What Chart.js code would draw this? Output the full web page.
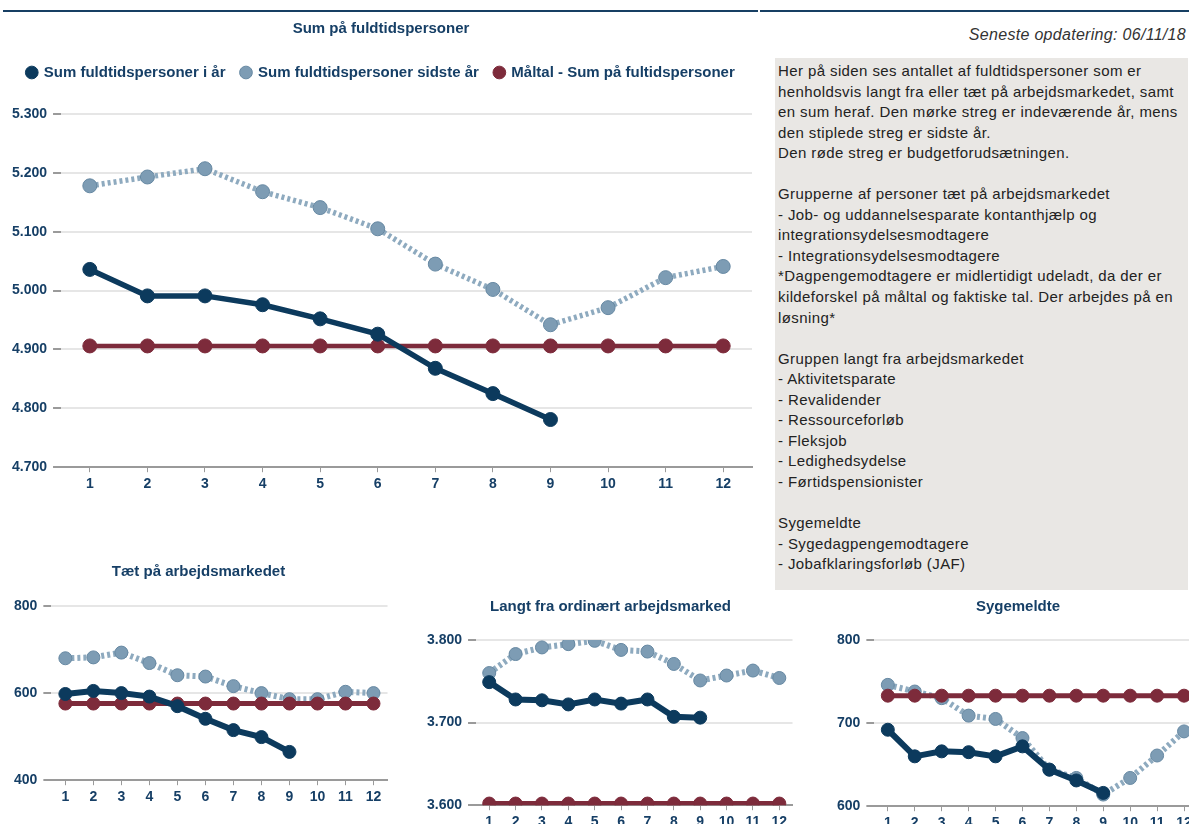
<!DOCTYPE html>
<html>
<head>
<meta charset="utf-8">
<script src="https://cdn.jsdelivr.net/npm/chart.js@4/dist/chart.umd.min.js"></script>
<style>
  html, body { margin: 0; padding: 0; background: #fff; }
  body { position: relative; width: 1189px; height: 824px; overflow: hidden;
         font-family: 'Liberation Sans', Arial, sans-serif; }
  .rule { position: absolute; top: 10px; height: 2px; background: #173f63; }
  .box { position: absolute; }
  #updated { position: absolute; right: 3px; top: 26px; font-size: 16px; letter-spacing: 0.3px;
             font-style: italic; color: #333; }
  #info { position: absolute; left: 775px; top: 58px; width: 410px; height: 529px;
          background: #e9e7e4; color: #222; font-size: 15px; letter-spacing: 0.4px; line-height: 20.55px;
          padding: 3px 0 0 3px; white-space: nowrap; }
</style>
</head>
<body>
<div class="rule" style="left:3px;width:755px"></div>
<div class="rule" style="left:760px;width:429px"></div>
<div id="updated">Seneste opdatering: 06/11/18</div>
<div id="info">Her på siden ses antallet af fuldtidspersoner som er<br>henholdsvis langt fra eller tæt på arbejdsmarkedet, samt<br>en sum heraf. Den mørke streg er indeværende år, mens<br>den stiplede streg er sidste år.<br>Den røde streg er budgetforudsætningen.<br><br>Grupperne af personer tæt på arbejdsmarkedet<br>- Job- og uddannelsesparate kontanthjælp og<br>integrationsydelsesmodtagere<br>- Integrationsydelsesmodtagere<br>*Dagpengemodtagere er midlertidigt udeladt, da der er<br>kildeforskel på måltal og faktiske tal. Der arbejdes på en<br>løsning*<br><br>Gruppen langt fra arbejdsmarkedet<br>- Aktivitetsparate<br>- Revalidender<br>- Ressourceforløb<br>- Fleksjob<br>- Ledighedsydelse<br>- Førtidspensionister<br><br>Sygemeldte<br>- Sygedagpengemodtagere<br>- Jobafklaringsforløb (JAF)</div>

<div class="box" style="left:0;top:14px"><canvas id="main" width="760" height="483"></canvas></div>
<div class="box" style="left:0;top:555px"><canvas id="taet" width="395" height="255"></canvas></div>
<div class="box" style="left:405px;top:590px"><canvas id="langt" width="395" height="245"></canvas></div>
<div class="box" style="left:815px;top:590px"><canvas id="syg" width="390" height="246"></canvas></div>

<script>
'use strict';

var months = ['1', '2', '3', '4', '5', '6', '7', '8', '9', '10', '11', '12'];

// Sum på fuldtidspersoner
var sumThisYear = [5036, 4991, 4991, 4976, 4952, 4926, 4868, 4825, 4781];
var sumLastYear = [5178, 5193, 5207, 5168, 5141, 5105, 5045, 5002, 4942, 4971, 5022, 5041];
var sumTarget = [4906, 4906, 4906, 4906, 4906, 4906, 4906, 4906, 4906, 4906, 4906, 4906];

// Tæt på arbejdsmarkedet
var taetThisYear = [598, 605, 600, 592, 570, 541, 515, 499, 465];
var taetLastYear = [680, 682, 693, 669, 641, 638, 616, 600, 586, 586, 603, 600];
var taetTarget = [576, 576, 576, 576, 576, 576, 576, 576, 576, 576, 576, 576];

// Langt fra ordinært arbejdsmarked
var langtThisYear = [3749, 3728, 3727, 3722, 3728, 3723, 3728, 3707, 3706];
var langtLastYear = [3760, 3783, 3791, 3795, 3799, 3788, 3786, 3771, 3751, 3757, 3763, 3754];
var langtTarget = [3602, 3602, 3602, 3602, 3602, 3602, 3602, 3602, 3602, 3602, 3602, 3602];

// Sygemeldte
var sygThisYear = [692, 660, 666, 665, 660, 672, 644, 631, 616];
var sygLastYear = [746, 738, 730, 709, 705, 682, 644, 634, 614, 634, 661, 690];
var sygTarget = [733, 733, 733, 733, 733, 733, 733, 733, 733, 733, 733, 733];

var seriesNames = ['Sum fuldtidspersoner i år', 'Sum fuldtidspersoner sidste år', 'Måltal - Sum på fultidspersoner'];

var NAVY = '#0c3a5d',
    LIGHT = '#8eaabf',
    LIGHT_POINT = '#7d9cb4',
    RED = '#7d2b3b',
    TEXT = '#163f66',
    FONT = "'Liberation Sans', Arial, sans-serif";

Chart.defaults.font.family = FONT;
Chart.defaults.animation = false;

/**
 * Format number with dot as thousands separator.
 * @param {number} value value
 * @returns {string}
 */
function formatNumber(value) {
    return String(value).replace(/\B(?=(\d{3})+(?!\d))/g, '.');
}

// extra room under the legend of the main chart
var legendMargin = {
    id: 'legendMargin',
    beforeInit: function(chart, args, opts) {
        var fit = chart.legend.fit;
        chart.legend.fit = function() {
            fit.call(this);
            this.height += opts.size || 0;
        };
    }
};

function buildDatasets(thisYear, lastYear, target, radius, width) {
    return [{
        label: seriesNames[0],
        data: thisYear,
        borderColor: NAVY,
        backgroundColor: NAVY,
        borderWidth: width,
        pointRadius: radius,
        pointBackgroundColor: NAVY,
        pointBorderColor: NAVY,
        pointBorderWidth: 1,
        order: 0
    }, {
        label: seriesNames[1],
        data: lastYear,
        borderColor: LIGHT,
        backgroundColor: LIGHT_POINT,
        borderWidth: width,
        borderDash: [3, 3],
        pointRadius: radius,
        pointBackgroundColor: LIGHT_POINT,
        pointBorderColor: '#6688a2',
        pointBorderWidth: 1,
        order: 2
    }, {
        label: seriesNames[2],
        data: target,
        borderColor: RED,
        backgroundColor: RED,
        borderWidth: width - 1,
        pointRadius: radius,
        pointBackgroundColor: RED,
        pointBorderColor: RED,
        pointBorderWidth: 1,
        order: 1
    }];
}

function buildOptions(o) {
    return {
        responsive: false,
        layout: { padding: o.padding },
        plugins: {
            title: {
                display: true,
                text: o.title,
                color: TEXT,
                font: { size: o.titleSize, weight: 'bold' },
                padding: o.titlePadding
            },
            legend: {
                display: !!o.legend,
                labels: {
                    usePointStyle: true,
                    pointStyle: 'circle',
                    boxWidth: 9,
                    boxHeight: 9,
                    color: TEXT,
                    font: { size: 15, weight: 'bold' },
                    padding: 16,
                    sort: function(a, b) { return a.datasetIndex - b.datasetIndex; }
                }
            },
            legendMargin: { size: o.legendMargin || 0 },
            tooltip: { enabled: false }
        },
        scales: {
            x: {
                offset: true,
                border: { display: true, color: '#9a9a9a', width: 2 },
                grid: { display: true, drawOnChartArea: false, tickColor: '#9a9a9a', tickLength: 5 },
                ticks: { color: TEXT, font: { size: o.tickSize, weight: 'bold' }, padding: 4, maxRotation: 0, autoSkip: false }
            },
            y: {
                min: o.min,
                max: o.max,
                border: { display: false },
                grid: { color: '#e6e6e6', lineWidth: 2, tickColor: '#9a9a9a', tickLength: 8 },
                ticks: {
                    stepSize: o.step,
                    color: TEXT,
                    padding: 6,
                    font: { size: o.tickSize, weight: 'bold' },
                    callback: function(v) { return formatNumber(v); }
                }
            }
        }
    };
}

new Chart(document.getElementById('main'), {
    type: 'line',
    data: { labels: months, datasets: buildDatasets(sumThisYear, sumLastYear, sumTarget, 7, 5.5) },
    options: buildOptions({
        title: 'Sum på fuldtidspersoner', titleSize: 15, titlePadding: { top: 6, bottom: 11 },
        legend: true, legendMargin: 24, min: 4700, max: 5300, step: 100, tickSize: 14,
        padding: { left: 6, right: 4, top: 0, bottom: 0 }
    }),
    plugins: [legendMargin]
});

new Chart(document.getElementById('taet'), {
    type: 'line',
    data: { labels: months, datasets: buildDatasets(taetThisYear, taetLastYear, taetTarget, 6.5, 6) },
    options: buildOptions({
        title: 'Tæt på arbejdsmarkedet', titleSize: 15, titlePadding: { top: 8, bottom: 25 },
        min: 400, max: 800, step: 200, tickSize: 14,
        padding: { left: 8, right: 6, top: 0, bottom: 0 }
    })
});

new Chart(document.getElementById('langt'), {
    type: 'line',
    data: { labels: months, datasets: buildDatasets(langtThisYear, langtLastYear, langtTarget, 6.5, 6) },
    options: buildOptions({
        title: 'Langt fra ordinært arbejdsmarked', titleSize: 15, titlePadding: { top: 8, bottom: 24 },
        min: 3600, max: 3800, step: 100, tickSize: 14,
        padding: { left: 16, right: 0, top: 0, bottom: 0 }
    })
});

new Chart(document.getElementById('syg'), {
    type: 'line',
    data: { labels: months, datasets: buildDatasets(sygThisYear, sygLastYear, sygTarget, 6.5, 6) },
    options: buildOptions({
        title: 'Sygemeldte', titleSize: 15, titlePadding: { top: 8, bottom: 24 },
        min: 600, max: 800, step: 100, tickSize: 14,
        padding: { left: 16, right: 0, top: 0, bottom: 0 }
    })
});
</script>
</body>
</html>
